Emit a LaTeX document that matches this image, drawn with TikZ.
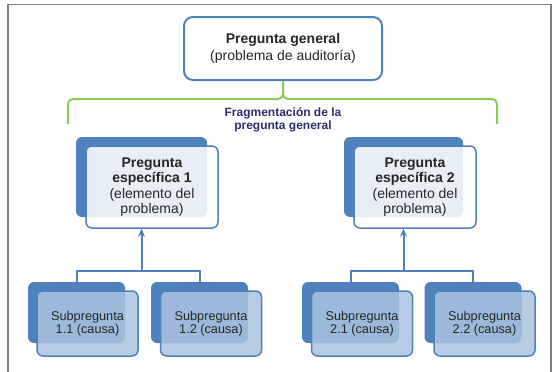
\documentclass[tikz,border=0pt]{standalone}
\usepackage{fontspec}
\setmainfont{Liberation Sans}
\usetikzlibrary{arrows.meta}

\definecolor{accentblue}{RGB}{79,129,189}
\definecolor{bracegreen}{RGB}{140,204,88}
\definecolor{framegray}{RGB}{128,128,128}
\definecolor{fragnavy}{RGB}{46,44,110}
\definecolor{subfill}{RGB}{170,195,225}
\definecolor{textgray}{RGB}{38,38,38}

\tikzset{every picture/.style={line width=0.75pt}}
\tikzset{
  topbox/.style={draw=accentblue, line width=2, rounded corners=9, fill=white, minimum width=198, minimum height=63, align=center, text=textgray, font=\fontsize{14}{16.5}\selectfont, inner sep=0},
  backbox/.style={fill=accentblue, rounded corners=6, inner sep=0},
  espbox/.style={draw=accentblue, line width=1.5, rounded corners=6, fill=white, fill opacity=0.87, text opacity=1, minimum height=82, align=center, text=textgray, font=\fontsize{14}{15.5}\selectfont, inner sep=0},
  subbox/.style={draw=accentblue, line width=1.5, rounded corners=6, fill=subfill, fill opacity=0.85, text opacity=1, minimum width=101, minimum height=65, align=center, text=textgray, font=\fontsize{12.7}{13.5}\selectfont, inner sep=0},
  subback/.style={backbox, minimum width=97, minimum height=61},
  fragtext/.style={align=center, text=fragnavy, font=\fontsize{12}{13.5}\selectfont\bfseries, inner sep=0},
  bracket/.style={draw=bracegreen, line width=2, rounded corners=5},
  link/.style={draw=accentblue, line width=2},
  linkarrow/.style={link, -{Stealth[length=8,width=7]}}
}

\begin{document}
\begin{tikzpicture}[x=1pt,y=1pt,yscale=-1,xscale=1]
\useasboundingbox (0,0) rectangle (554,372);

%Frame
\draw [framegray, line width=1.2] (8,372) -- (8,4.5) -- (551,4.5) -- (551,372);

% Pregunta general
\node [topbox] (general) at (283,48.5) {\textbf{Pregunta general}\\(problema de auditoría)};

%Bracket
\coordinate (pinch) at (283,99);
\coordinate (bl) at (68,124);
\coordinate (br) at (497,124);
\draw [bracket] (general.south) -- (pinch) -| (bl);
\draw [bracket] (general.south) -- (pinch) -| (br);
% Text Node
\node [fragtext] (frag) at (283,120) {Fragmentación de la\\pregunta general};

% Pregunta especifica 1
\node [backbox, minimum width=131, minimum height=80] (esp1back) at (141.5,177) {};
\node [espbox, minimum width=132] (esp1) at (152,187) {\textbf{Pregunta}\\\textbf{específica 1}\\(elemento del\\problema)};
% Pregunta especifica 2
\node [backbox, minimum width=119, minimum height=80] (esp2back) at (403.5,177) {};
\node [espbox, minimum width=122] (esp2) at (415,187) {\textbf{Pregunta}\\\textbf{específica 2}\\(elemento del\\problema)};

% Subpreguntas
\node [subback] (sub11back) at (76.5,312.5) {};
\node [subbox] (sub11) at (87.5,323.5) {Subpregunta\\1.1 (causa)};
\node [subback] (sub12back) at (199.5,312.5) {};
\node [subbox] (sub12) at (211,323.5) {Subpregunta\\1.2 (causa)};
\node [subback] (sub21back) at (350.5,312.5) {};
\node [subbox] (sub21) at (362,323.5) {Subpregunta\\2.1 (causa)};
\node [subback] (sub22back) at (473,312.5) {};
\node [subbox] (sub22) at (484.5,323.5) {Subpregunta\\2.2 (causa)};

%Links
\coordinate (bar1) at (141.5,271);
\coordinate (bar2) at (403.5,271);
\draw [link] (sub11back.north) |- (bar1) -| (sub12back.north);
\draw [linkarrow] (bar1) -- (esp1.south -| bar1);
\draw [link] (sub21back.north) |- (bar2) -| (sub22back.north);
\draw [linkarrow] (bar2) -- (esp2.south -| bar2);

\end{tikzpicture}
\end{document}
